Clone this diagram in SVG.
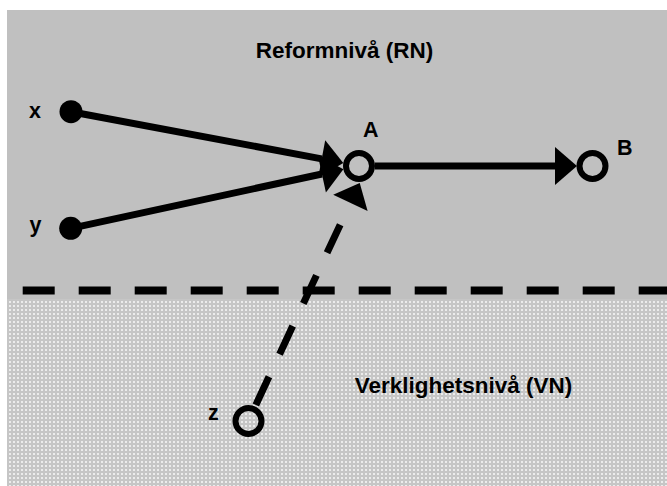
<svg xmlns="http://www.w3.org/2000/svg" width="667" height="486" viewBox="0 0 667 486">
<style>
.lbl{font-family:"Liberation Sans",Arial,sans-serif;font-weight:bold;font-size:21.5px;fill:#000}
.big{font-size:22.5px}
.edge{stroke:#000;stroke-width:7;fill:none}
.open{fill:none;stroke:#000;stroke-width:6}
.dot{fill:#000}
</style>
<defs>
<pattern id="dots" width="4" height="4" patternUnits="userSpaceOnUse">
<rect width="4" height="4" fill="#c6c6c6"/>
<rect x="1" y="1" width="2" height="2" fill="#ececec"/>
</pattern>
<marker id="arr" markerUnits="userSpaceOnUse" markerWidth="24" markerHeight="40" refX="0" refY="19" orient="auto" overflow="visible">
<path d="M0,0 L22,19 L0,38 Z" fill="#000"/>
</marker>
</defs>
<g id="background">
<rect x="7" y="10" width="660" height="476" fill="#c0c0c0"/>
<rect x="7" y="299" width="660" height="187" fill="url(#dots)"/>
<line x1="7" y1="290.5" x2="667" y2="290.5" stroke="#000" stroke-width="8" stroke-dasharray="32 24" stroke-dashoffset="-15.7"/>
<text class="lbl big" x="344.5" y="58" text-anchor="middle">Reformnivå (RN)</text>
<text class="lbl big" x="463.5" y="393" text-anchor="middle">Verklighetsnivå (VN)</text>
</g>
<g id="connectors">
<line class="edge" x1="71" y1="111.7" x2="321.7" y2="158.9" marker-end="url(#arr)"/>
<line class="edge" x1="70.7" y1="228.3" x2="321.9" y2="174" marker-end="url(#arr)"/>
<line class="edge" x1="375" y1="166" x2="555" y2="166" marker-end="url(#arr)"/>
<line class="edge" x1="248.2" y1="421.2" x2="350.4" y2="202.85" stroke-dasharray="31 25" stroke-dashoffset="38" marker-end="url(#arr)"/>
</g>
<g id="node-x">
<circle class="dot" cx="71" cy="111.7" r="11.5"/>
<text class="lbl" x="29" y="117.5">x</text>
</g>
<g id="node-y">
<circle class="dot" cx="70.7" cy="228.3" r="11.5"/>
<text class="lbl" x="29.5" y="232">y</text>
</g>
<g id="node-A">
<circle class="open" cx="359" cy="166" r="13"/>
<text class="lbl" x="370.8" y="136.7" text-anchor="middle">A</text>
</g>
<g id="node-B">
<circle class="open" cx="592.5" cy="166" r="13"/>
<text class="lbl" x="617" y="155">B</text>
</g>
<g id="node-z">
<circle class="open" cx="248.5" cy="421" r="13" stroke-width="7"/>
<text class="lbl" x="208" y="420">z</text>
</g>
</svg>
